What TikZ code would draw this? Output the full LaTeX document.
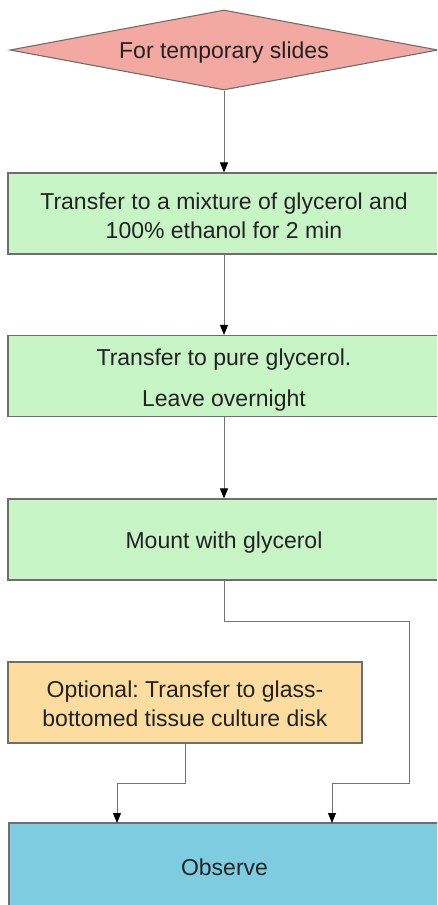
\documentclass[tikz,border=0pt]{standalone}
\usepackage{fontspec}
\setmainfont{Liberation Sans}
\usetikzlibrary{shapes.geometric,arrows.meta}
\frenchspacing
\definecolor{decisionfill}{HTML}{F3A9A1}
\definecolor{stepfill}{HTML}{C8F5C6}
\definecolor{optfill}{HTML}{FCDD9F}
\definecolor{endfill}{HTML}{7ECCE0}
\definecolor{edgegray}{HTML}{6E6E6E}
\definecolor{linegray}{HTML}{727272}
\definecolor{textdark}{HTML}{222222}
\tikzset{
  base/.style={draw=edgegray, line width=1.1pt, inner sep=0pt},
  decision/.style={base, diamond, fill=decisionfill, aspect=5.35,
    minimum width=428pt, minimum height=80pt},
  stepbox/.style={base, rectangle, fill=stepfill, minimum width=432pt, minimum height=81pt},
  optbox/.style={base, rectangle, fill=optfill, minimum width=354pt, minimum height=81pt},
  endbox/.style={base, rectangle, fill=endfill, minimum width=431pt, minimum height=86pt},
  caption/.style={text=textdark, inner sep=0pt, align=center,
    font=\fontsize{23}{29}\selectfont\frenchspacing},
  flow/.style={draw=linegray, line width=0.9pt,
    -{Triangle[length=10pt,width=8pt,color=black]}}
}
\begin{document}
\begin{tikzpicture}[x=1pt,y=-1pt]
\useasboundingbox (0,0) rectangle (437,905);
\fill[white] (0,0) rectangle (437,905);
\clip (0,0) rectangle (437,905);

% shapes
\node[decision] (d) at (224,50) {};
\node[stepbox] (s1) at (224,213.5) {};
\node[stepbox] (s2) at (224,376) {};
\node[stepbox] (s3) at (224,539.5) {};
\node[optbox] (opt) at (185,702.5) {};
\node[endbox] (obs) at (224.5,866) {};

% their texts
\node[caption] (dt) at ([yshift=-3pt]d.center) {For temporary slides};
\node[caption] (s1t) at ([yshift=-2pt]s1.center) {Transfer to a mixture of glycerol and\\100\% ethanol for 2 min};
\node[caption, font=\fontsize{23}{41}\selectfont] (s2t) at ([yshift=-4.5pt]s2.center) {Transfer to pure glycerol.\\Leave overnight};
\node[caption] (s3t) at ([yshift=-3pt]s3.center) {Mount with glycerol};
\node[caption] (optt) at ([yshift=-1pt]opt.center) {Optional: Transfer to glass-\\bottomed tissue culture disk};
\node[caption] (obst) at ([yshift=-1pt]obs.center) {Observe};

% routing points
\coordinate (r1) at (409,621);
\coordinate (r2) at (409,783);
\coordinate (inR) at (332,823);
\coordinate (o1) at (185,783);
\coordinate (inL) at (117,823);

\draw[flow] (d.south) -- (s1.north);
\draw[flow] (s1.south) -- (s2.north);
\draw[flow] (s2.south) -- (s3.north);
\draw[flow] (s3.south) |- (r1) -- (r2) -| (inR);
\draw[flow] (opt.south) -- (o1) -| (inL);
\end{tikzpicture}
\end{document}
